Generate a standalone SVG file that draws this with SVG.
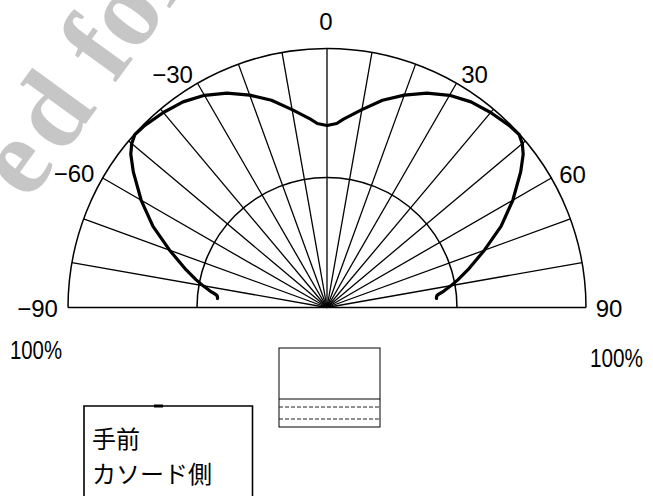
<svg xmlns="http://www.w3.org/2000/svg" xmlns:xlink="http://www.w3.org/1999/xlink" width="653" height="496" viewBox="0 0 653 496">
  <style>
    .bg { fill: #ffffff; }
    .wm { fill: #c6c6c6; font-family: "Liberation Serif", serif; font-weight: bold; font-size: 110px; }
    .ray { stroke: #000; stroke-width: 1.3; fill: none; }
    .arc { stroke: #000; stroke-width: 1.5; fill: none; }
    .heart { stroke: #000; stroke-width: 3.2; fill: none; stroke-linejoin: round; stroke-linecap: round; }
    .num { font-family: "Liberation Sans", Arial, sans-serif; font-size: 24px; fill: #000; text-anchor: middle; }
    .jp { font-family: "Noto Sans CJK JP", "Noto Sans CJK SC", sans-serif; font-size: 24px; fill: #000; }
    .box { stroke: #000; stroke-width: 1.6; fill: none; }
    .thin { stroke: #000; stroke-width: 1; fill: none; }
    .dash { stroke: #222; stroke-width: 1; fill: none; stroke-dasharray: 4 2; }
  </style>
  <rect class="bg" x="0" y="0" width="653" height="496"/>

  <g id="watermark">
    <text class="wm" transform="translate(28.5,202.5) rotate(-54)" dx="0 8">ed for</text>
  </g>

  <g id="grid">
    <path class="arc" d="M68,307.5 A259,259 0 0 1 586,307.5"/>
    <path class="arc" d="M197,307.5 A130,130 0 0 1 457,307.5"/>
    <line class="arc" x1="68" y1="307.5" x2="586" y2="307.5"/>
    <g class="ray">
      <line x1="327" y1="307.5" x2="327" y2="48.5"/>
      <line x1="327" y1="307.5" x2="371.98" y2="52.43"/>
      <line x1="327" y1="307.5" x2="415.58" y2="64.12"/>
      <line x1="327" y1="307.5" x2="456.5" y2="83.2"/>
      <line x1="327" y1="307.5" x2="493.48" y2="109.1"/>
      <line x1="327" y1="307.5" x2="525.4" y2="141.02"/>
      <line x1="327" y1="307.5" x2="551.3" y2="178"/>
      <line x1="327" y1="307.5" x2="570.38" y2="218.92"/>
      <line x1="327" y1="307.5" x2="582.07" y2="262.52"/>
      <line x1="327" y1="307.5" x2="282.02" y2="52.43"/>
      <line x1="327" y1="307.5" x2="238.42" y2="64.12"/>
      <line x1="327" y1="307.5" x2="197.5" y2="83.2"/>
      <line x1="327" y1="307.5" x2="160.52" y2="109.1"/>
      <line x1="327" y1="307.5" x2="128.6" y2="141.02"/>
      <line x1="327" y1="307.5" x2="102.7" y2="178"/>
      <line x1="327" y1="307.5" x2="83.62" y2="218.92"/>
      <line x1="327" y1="307.5" x2="71.93" y2="262.52"/>
    </g>
  </g>

  <g id="curve">
    <defs>
      <path id="half" class="heart" d="M327,125.5 L336.7,123.5 L343.5,119.2 L361.9,109.6 L382.5,100.3 L404.3,95.1 L427,93.2 L449.5,95.3 L471,101.9 L490.6,112.5 L509.1,125.4 L519.1,134.5 L522.3,143.6 L523.2,154.2 L520.7,171.9 L512.8,200.3 L501,226.4 L484.4,250.2 L468,269.7 L458.1,279.6 L451.1,285.6 L443.9,291.1 L439,294 Q436,295.5 436.5,298.5"/>
    </defs>
    <use xlink:href="#half" href="#half"/>
    <use xlink:href="#half" href="#half" transform="matrix(-1 0 0 1 654 0)"/>
  </g>

  <g id="labels">
    <text class="num" x="326" y="30">0</text>
    <text class="num" x="172.5" y="83">−30</text>
    <text class="num" x="474.5" y="83">30</text>
    <text class="num" x="74" y="182">−60</text>
    <text class="num" x="572.5" y="183">60</text>
    <text class="num" x="37.5" y="317">−90</text>
    <text class="num" x="609" y="317">90</text>
    <text class="num" x="36" y="359" textLength="52" lengthAdjust="spacingAndGlyphs" style="font-size:25px">100%</text>
    <text class="num" x="616.5" y="367" textLength="53" lengthAdjust="spacingAndGlyphs" style="font-size:25px">100%</text>
  </g>

  <g id="device-icon">
    <rect class="thin" x="279" y="348" width="101" height="79"/>
    <line class="thin" x1="279" y1="399" x2="380" y2="399"/>
    <line class="dash" x1="279" y1="407" x2="380" y2="407"/>
    <line class="dash" x1="279" y1="419" x2="380" y2="419"/>
  </g>

  <g id="legend-box">
    <path class="box" d="M84,500 V406 H252.5 V500"/>
    <rect x="154" y="404.5" width="9" height="3" fill="#000"/>
    <text class="jp" x="92" y="448">手前</text>
    <text class="jp" x="92" y="483">カソード側</text>
  </g>
</svg>
